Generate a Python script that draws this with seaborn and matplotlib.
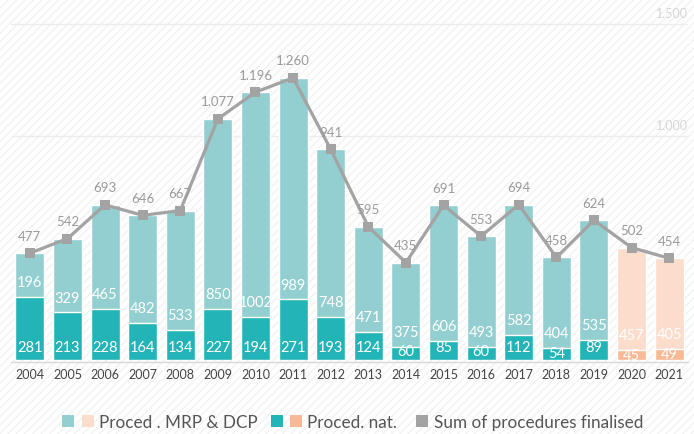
import numpy as np
import pandas as pd
import matplotlib
matplotlib.use("Agg")
import matplotlib.pyplot as plt
from matplotlib.patches import Rectangle
from matplotlib.lines import Line2D
from matplotlib.legend_handler import HandlerTuple
import seaborn as sns

sns.set_style("white")
plt.rcParams['font.family'] = ['Lato', 'DejaVu Sans']
plt.rcParams['hatch.linewidth'] = 0.9

years = [str(y) for y in range(2004, 2022)]
mrp_dcp = [196, 329, 465, 482, 533, 850, 1002, 989, 748, 471, 375, 606, 493, 582, 404, 535, 457, 405]
national = [281, 213, 228, 164, 134, 227, 194, 271, 193, 124, 60, 85, 60, 112, 54, 89, 45, 49]
totals = [a + b for a, b in zip(mrp_dcp, national)]

df = pd.DataFrame({"year": years, "mrp": mrp_dcp, "nat": national, "total": totals})

light_teal, dark_teal = "#93cfd0", "#23b4b8"
light_peach, dark_peach = "#fcdccb", "#f8b994"
line_gray = "#a3a3a3"
is_est = [y in ("2020", "2021") for y in years]
top_cols = [light_peach if e else light_teal for e in is_est]
bot_cols = [dark_peach if e else dark_teal for e in is_est]

fig = plt.figure(figsize=(6.94, 4.35), dpi=100)
fig.patches.append(Rectangle((0, 0), 1, 1, transform=fig.transFigure, facecolor="white",
                             edgecolor="#f1f1f1", hatch="////", linewidth=0, zorder=-10))
ax = fig.add_axes([11 / 694, 74 / 435, 677 / 694, 361 / 435])
ax.patch.set_alpha(0)

# stacked bars: draw totals in light colour, national part over it
sns.barplot(data=df, x="year", y="total", hue="year", palette=top_cols, legend=False,
            width=0.77, saturation=1, ax=ax, zorder=2)
sns.barplot(data=df, x="year", y="nat", hue="year", palette=bot_cols, legend=False,
            width=0.77, saturation=1, ax=ax, zorder=3)
sns.lineplot(x=np.arange(len(years)), y=totals, color=line_gray, marker="s", markersize=7,
             markeredgewidth=0, linewidth=2.3, ax=ax, zorder=5)

ax.set_xlim(-0.5, len(years) - 0.5)
ax.set_ylim(0, 1612)

for v in (1000, 1500):
    ax.axhline(v, color="#ececec", linewidth=1, zorder=1)
    ax.text(len(years) - 0.5, v + 22, f"{v:,}".replace(",", "."), ha="right", va="bottom",
            fontsize=9, color="#d6d6d6", zorder=1)

for i in range(len(years)):
    ax.text(i, min(60, national[i] - 22), str(national[i]), ha="center", va="center",
            color="white", fontsize=10.5, zorder=6)
    ax.text(i, national[i] + 66, str(mrp_dcp[i]), ha="center", va="center", color="white",
            fontsize=10.5, zorder=6)
    ax.text(i, totals[i] + 78, f"{totals[i]:,}".replace(",", "."), ha="center", va="center",
            color="#9a9a9a", fontsize=9.5, zorder=6)

ax.axhline(-8, color="#d8d8d8", linewidth=1, clip_on=False)
sns.despine(ax=ax, left=True, bottom=True)
ax.set_yticks([])
ax.set_xlabel("")
ax.set_ylabel("")
ax.tick_params(axis="x", length=0, pad=6, labelsize=9, labelcolor="#444444")

sq = dict(marker="s", linestyle="none", markersize=9, markeredgewidth=0)
pair_handles = [
    (Line2D([], [], color=light_teal, **sq), Line2D([], [], color=light_peach, **sq)),
    (Line2D([], [], color=dark_teal, **sq), Line2D([], [], color=dark_peach, **sq)),
]
fig.legend(pair_handles, ["Proced . MRP & DCP", "Proced. nat."], loc="center right",
           bbox_to_anchor=(0.584, 0.027), ncol=2, frameon=False, fontsize=12.3,
           handler_map={tuple: HandlerTuple(ndivide=None, pad=0.5)}, borderpad=0,
           handlelength=1.8, handletextpad=0.3, columnspacing=0.8, labelcolor="#555555")
fig.legend([Line2D([], [], color=line_gray, **sq)], ["Sum of procedures finalised"],
           loc="center left", bbox_to_anchor=(0.584, 0.027), frameon=False, fontsize=12.3,
           borderpad=0, handlelength=0.9, handletextpad=0.3, labelcolor="#555555")

fig.savefig("out.png", dpi=100)
